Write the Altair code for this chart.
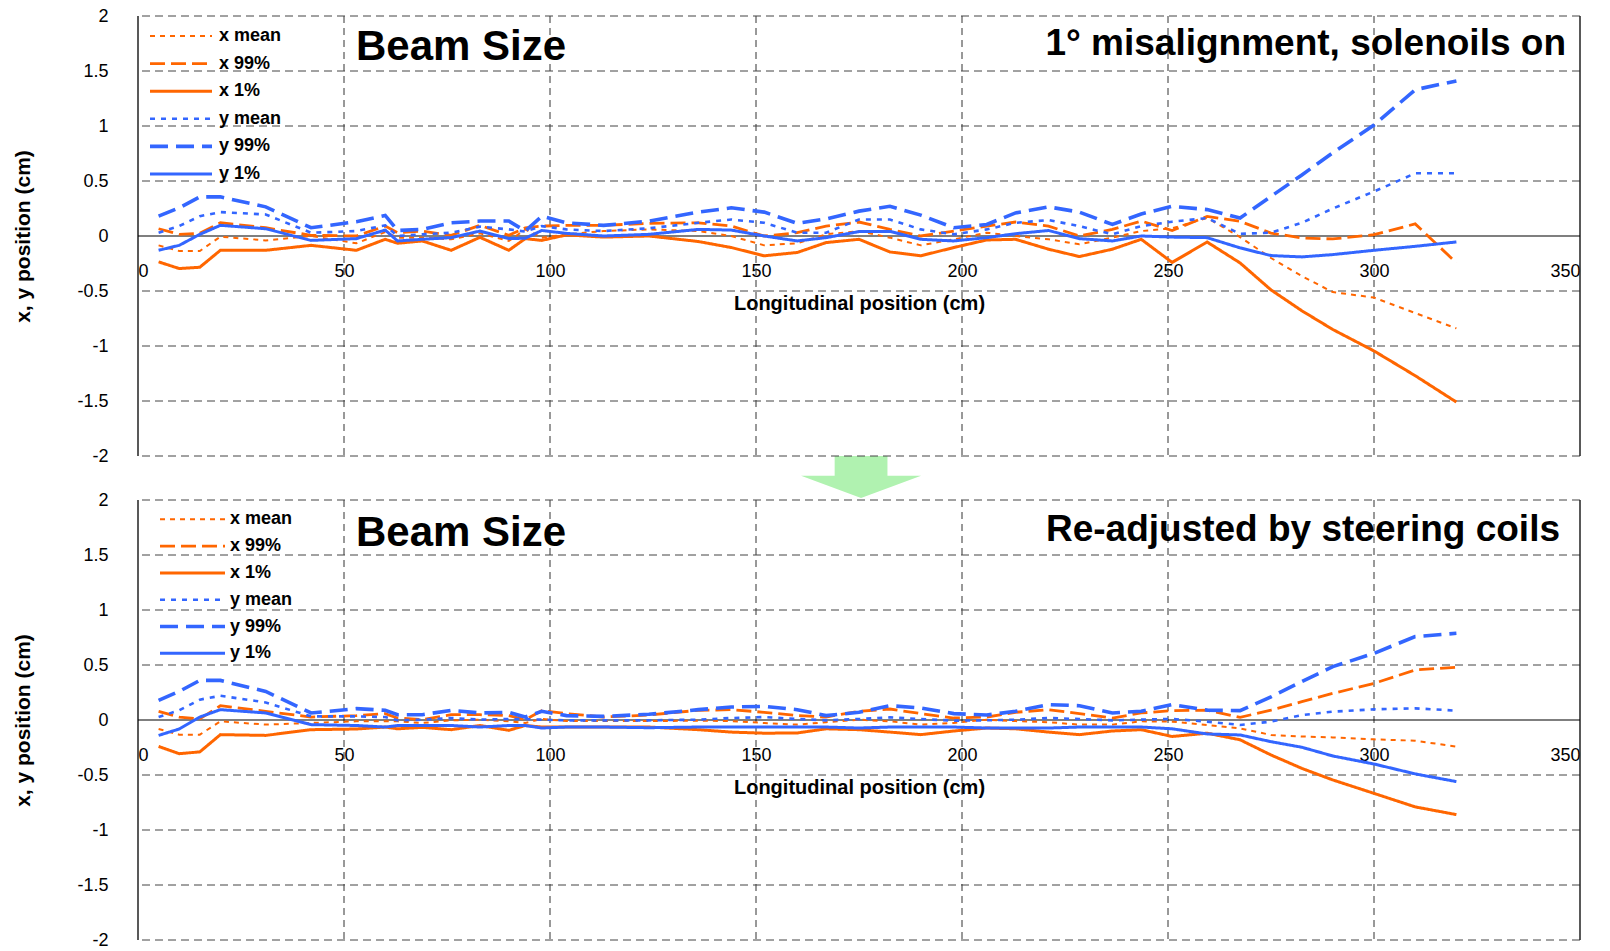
import altair as alt
import pandas as pd

# ---------------- data ----------------
positions = [5, 10, 15, 20, 31, 42, 53, 60, 63, 69, 76, 83, 90, 94, 98, 104, 113, 124,
             136, 144, 152, 160, 167, 175, 182.5, 190, 198, 206, 213, 221, 228.5, 236.5,
             243.5, 251, 259.5, 267.5, 275, 282.5, 290, 300, 310, 320]

series_names = ["x mean", "x 99%", "x 1%", "y mean", "y 99%", "y 1%"]

# Panel 1: 1 deg misalignment, solenoids on
top_x_mean = [-0.085, -0.136, -0.136, -0.006, -0.04, 0.0, -0.066, 0.036, -0.015, -0.015, -0.03, 0.024,
              -0.045, 0.06, -0.015, 0.015, 0.045, 0.06, 0.045, 0.0, -0.085, -0.066, 0.015, 0.045,
              -0.015, -0.085, -0.03, 0.03, 0.0, -0.03, -0.075, -0.015, 0.045, 0.07, 0.165, -0.01,
              -0.2, -0.365, -0.51, -0.56, -0.70, -0.84]
top_x_99 = [0.066, 0.015, 0.024, 0.12, 0.075, 0.006, 0.0, 0.09, 0.03, 0.045, 0.006, 0.097,
            0.006, 0.075, 0.09, 0.097, 0.097, 0.115, 0.12, 0.09, 0.0, 0.03, 0.09, 0.127,
            0.06, 0.0, 0.045, 0.09, 0.127, 0.09, 0.0, 0.06, 0.136, 0.05, 0.178, 0.133,
            0.027, -0.018, -0.027, 0.012, 0.11, -0.244]
top_x_1 = [-0.235, -0.296, -0.284, -0.13, -0.13, -0.085, -0.13, -0.03, -0.066, -0.045, -0.13, -0.012,
           -0.13, -0.024, -0.04, 0.01, -0.01, 0.0, -0.05, -0.105, -0.18, -0.15, -0.06, -0.03,
           -0.145, -0.18, -0.105, -0.036, -0.03, -0.12, -0.187, -0.12, -0.03, -0.24, -0.055, -0.245,
           -0.49, -0.68, -0.85, -1.045, -1.27, -1.51]
top_y_mean = [0.03, 0.09, 0.18, 0.217, 0.196, 0.03, 0.045, 0.097, 0.0, 0.015, 0.03, 0.085,
              0.06, 0.04, 0.09, 0.06, 0.045, 0.07, 0.12, 0.15, 0.12, 0.03, 0.03, 0.15,
              0.15, 0.06, 0.015, 0.06, 0.12, 0.145, 0.09, 0.015, 0.09, 0.13, 0.163, 0.02,
              0.03, 0.12, 0.25, 0.404, 0.57, 0.57]
top_y_99 = [0.18, 0.256, 0.356, 0.356, 0.265, 0.075, 0.13, 0.187, 0.05, 0.06, 0.12, 0.136,
            0.136, 0.045, 0.18, 0.12, 0.097, 0.135, 0.217, 0.256, 0.217, 0.115, 0.155, 0.226,
            0.27, 0.19, 0.075, 0.105, 0.21, 0.265, 0.217, 0.105, 0.2, 0.27, 0.24, 0.163,
            0.36, 0.555, 0.757, 1.008, 1.33, 1.41]
top_y_1 = [-0.13, -0.085, 0.015, 0.097, 0.066, -0.04, -0.024, 0.054, -0.045, -0.03, -0.015, 0.045,
           -0.024, -0.02, 0.05, 0.024, 0.0, 0.015, 0.06, 0.054, 0.0, -0.045, -0.015, 0.04,
           0.042, -0.03, -0.045, -0.015, 0.021, 0.05, -0.024, -0.045, 0.0, -0.01, -0.015, -0.108,
           -0.178, -0.19, -0.169, -0.13, -0.094, -0.054]

# Panel 2: re-adjusted by steering coils
bot_x_mean = [-0.082, -0.133, -0.133, -0.012, -0.042, -0.027, -0.012, -0.012, -0.012, -0.027, -0.003, 0.003,
              -0.012, -0.027, 0.009, -0.01, -0.01, -0.01, -0.006, -0.01, -0.027, -0.042, -0.02, 0.003,
              -0.012, -0.042, -0.027, 0.003, -0.01, -0.02, -0.042, -0.042, -0.012, -0.015, -0.045, -0.076,
              -0.136, -0.15, -0.158, -0.176, -0.188, -0.242]
bot_x_99 = [0.079, 0.027, 0.01, 0.13, 0.079, 0.027, 0.04, 0.058, 0.018, 0.003, 0.048, 0.048,
            0.04, 0.003, 0.085, 0.058, 0.027, 0.045, 0.088, 0.094, 0.07, 0.04, 0.027, 0.079,
            0.1, 0.058, 0.018, 0.027, 0.07, 0.094, 0.058, 0.018, 0.064, 0.085, 0.09, 0.024,
            0.09, 0.167, 0.242, 0.333, 0.455, 0.48]
bot_x_1 = [-0.24, -0.306, -0.29, -0.133, -0.14, -0.088, -0.082, -0.064, -0.08, -0.067, -0.088, -0.05,
           -0.094, -0.05, -0.064, -0.064, -0.064, -0.064, -0.088, -0.11, -0.12, -0.118, -0.08, -0.088,
           -0.11, -0.133, -0.1, -0.073, -0.08, -0.11, -0.133, -0.1, -0.088, -0.15, -0.12, -0.18,
           -0.318, -0.44, -0.545, -0.667, -0.79, -0.86]
bot_y_mean = [0.027, 0.088, 0.185, 0.22, 0.16, 0.033, 0.033, 0.027, -0.003, 0.003, 0.018, 0.003,
              0.009, 0.009, 0.003, -0.003, -0.003, -0.003, 0.003, 0.018, 0.027, 0.009, -0.003, 0.009,
              0.024, 0.009, -0.006, -0.003, 0.003, 0.018, 0.009, -0.003, 0.003, 0.01, -0.015, -0.045,
              -0.015, 0.045, 0.076, 0.097, 0.106, 0.085]
bot_y_99 = [0.179, 0.26, 0.36, 0.36, 0.26, 0.064, 0.103, 0.088, 0.048, 0.048, 0.088, 0.064,
            0.07, 0.027, 0.079, 0.04, 0.033, 0.052, 0.094, 0.118, 0.124, 0.094, 0.04, 0.07,
            0.13, 0.11, 0.058, 0.045, 0.079, 0.14, 0.13, 0.064, 0.079, 0.14, 0.09, 0.085,
            0.21, 0.35, 0.485, 0.606, 0.758, 0.788]
bot_y_1 = [-0.14, -0.082, 0.027, 0.094, 0.064, -0.042, -0.05, -0.064, -0.05, -0.05, -0.05, -0.064,
           -0.05, -0.05, -0.073, -0.064, -0.064, -0.07, -0.064, -0.064, -0.064, -0.064, -0.064, -0.073,
           -0.064, -0.064, -0.064, -0.073, -0.073, -0.073, -0.064, -0.064, -0.064, -0.08, -0.127, -0.136,
           -0.197, -0.248, -0.327, -0.4, -0.49, -0.56]

x_ticks = [0, 50, 100, 150, 200, 250, 300, 350]
y_ticks = [-2, -1.5, -1, -0.5, 0, 0.5, 1, 1.5, 2]

top_titles = ["Beam Size", "1° misalignment, solenoils on"]
bot_titles = ["Beam Size", "Re-adjusted by steering coils"]

arrow_pos = [175.5]

# ---------------- styling ----------------
ORANGE = "#FF6600"
BLUE = "#3366FF"
FONT = "Liberation Sans"
W, H = 1442, 440

color_scale = alt.Scale(domain=series_names, range=[ORANGE, ORANGE, ORANGE, BLUE, BLUE, BLUE])
dash_scale = alt.Scale(domain=series_names,
                       range=[[5, 5], [15, 6], [1, 0], [5, 6], [18, 8], [1, 0]])
width_scale = alt.Scale(type="ordinal", domain=series_names, range=[2, 2.8, 3, 2.6, 3.6, 3])

x_scale = alt.Scale(domain=[0, 350], nice=False, zero=False)
y_scale = alt.Scale(domain=[-2, 2], nice=False, zero=False)


def long_df(values):
    rows = []
    for name, vals in zip(series_names, values):
        for p, v in zip(positions, vals):
            rows.append({"pos": p, "val": v, "series": name})
    return pd.DataFrame(rows)


def panel(values, titles, leg_x0, leg_x1, leg_lab, leg_y0, leg_step, beam_base, right_base,
          right_x, with_arrow):
    df = long_df(values)

    xs = alt.X("pos:Q", scale=x_scale)
    ys = alt.Y("val:Q", scale=y_scale)

    lines = alt.Chart(df).mark_line(strokeJoin="miter").encode(
        x=alt.X("pos:Q", scale=x_scale,
                axis=alt.Axis(values=x_ticks, grid=False, ticks=False, tickSize=0, domain=False,
                              offset=-H / 2, labelFontSize=18, labelPadding=26, labelFont=FONT,
                              labelColor="black", title="Longitudinal position (cm)",
                              titleFontSize=20, titleFont=FONT, titleFontWeight="bold",
                              titlePadding=13, titleColor="black")),
        y=alt.Y("val:Q", scale=y_scale,
                axis=alt.Axis(values=y_ticks, grid=False, ticks=False, tickSize=0, domain=False,
                              labelFontSize=18, labelPadding=30, labelFont=FONT, labelColor="black",
                              labelExpr="datum.value + ''",
                              title="x, y position (cm)", titleFontSize=21, titleFont=FONT,
                              titleFontWeight="bold", titleColor="black", titleX=-115,
                              titleBaseline="middle")),
        color=alt.Color("series:N", scale=color_scale, legend=None),
        strokeDash=alt.StrokeDash("series:N", scale=dash_scale, legend=None),
        strokeWidth=alt.StrokeWidth("series:N", scale=width_scale, legend=None),
        detail="series:N",
    )

    vgrid = alt.Chart(pd.DataFrame({"pos": x_ticks[1:-1]})).mark_rule(
        color="#333333", strokeDash=[7, 5], strokeWidth=1).encode(x=xs)
    hgrid = alt.Chart(pd.DataFrame({"val": [v for v in y_ticks if v != 0]})).mark_rule(
        color="#444444", strokeDash=[8, 5], strokeWidth=1).encode(y=ys)
    border = alt.Chart(pd.DataFrame({"pos": [x_ticks[0], x_ticks[-1]]})).mark_rule(
        color="#222222", strokeWidth=1.5).encode(x=xs)
    zero = alt.Chart(pd.DataFrame({"val": [0]})).mark_rule(
        color="black", strokeWidth=1.2).encode(y=ys)

    leg_df = pd.DataFrame({"series": series_names,
                           "ly": [leg_y0 + i * leg_step for i in range(len(series_names))]})
    leg_rules = alt.Chart(leg_df).mark_rule().encode(
        x=alt.value(leg_x0), x2=alt.value(leg_x1),
        y=alt.Y("ly:Q", scale=None),
        color=alt.Color("series:N", scale=color_scale, legend=None),
        strokeDash=alt.StrokeDash("series:N", scale=dash_scale, legend=None),
        strokeWidth=alt.StrokeWidth("series:N", scale=width_scale, legend=None),
    )
    leg_text = alt.Chart(leg_df).mark_text(
        align="left", baseline="middle", fontSize=18, fontWeight="bold", font=FONT,
        color="black").encode(
        x=alt.value(leg_lab), y=alt.Y("ly:Q", scale=None), text="series:N")

    t_left = alt.Chart(pd.DataFrame({"t": [titles[0]]})).mark_text(
        align="left", baseline="alphabetic", fontSize=42, fontWeight="bold", font=FONT,
        color="black").encode(x=alt.value(218), y=alt.value(beam_base), text="t:N")
    t_right = alt.Chart(pd.DataFrame({"t": [titles[1]]})).mark_text(
        align="right", baseline="alphabetic", fontSize=37, fontWeight="bold", font=FONT,
        color="black").encode(x=alt.value(right_x), y=alt.value(right_base), text="t:N")

    layers = []
    if with_arrow:
        arrow_path = "M-0.44,0 L0.44,0 L0.44,0.33 L1,0.33 L0,0.7 L-1,0.33 L-0.44,0.33 Z"
        arrow = alt.Chart(pd.DataFrame({"pos": arrow_pos, "val": [y_ticks[0]]})).mark_point(
            shape=arrow_path, size=14400, filled=True, color="#b0f2b0", opacity=1,
            strokeWidth=0).encode(x=xs, y=ys)
        layers.append(arrow)
    # grid first, data lines drawn above it
    layers += [vgrid, hgrid, border, zero, lines, leg_rules, leg_text, t_left, t_right]
    return alt.layer(*layers).properties(width=W, height=H)


top = panel([top_x_mean, top_x_99, top_x_1, top_y_mean, top_y_99, top_y_1], top_titles,
            12, 74, 81, 20, 27.6, 44, 39, 1428, True)
bottom = panel([bot_x_mean, bot_x_99, bot_x_1, bot_y_mean, bot_y_99, bot_y_1], bot_titles,
               22, 87, 92, 19.3, 26.8, 45.7, 41, 1422, False)

chart = alt.vconcat(top, bottom, spacing=44, bounds="flush").properties(
    padding={"left": 12, "top": 7, "right": 5, "bottom": 0},
    background="white",
).configure_view(stroke=None)

chart.save("out.html", embed_options={"renderer": "svg", "actions": False})
